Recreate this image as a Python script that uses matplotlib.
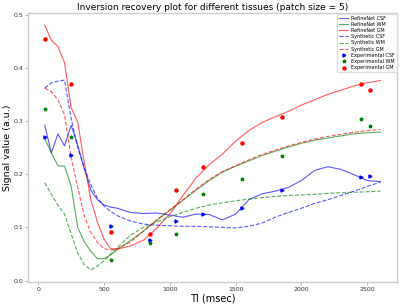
import matplotlib
matplotlib.use('Agg')
import matplotlib.pyplot as plt

# Inversion times (msec) for the curves
ti = [50, 100, 150, 200, 250, 300, 350, 400, 450, 500, 550, 600,
      700, 800, 900, 1000, 1100, 1200, 1300, 1400, 1500, 1600, 1700,
      1800, 1900, 2000, 2100, 2200, 2300, 2400, 2500, 2600]

refine_csf = [0.292, 0.240, 0.276, 0.253, 0.292, 0.255, 0.210, 0.170, 0.152,
              0.142, 0.138, 0.136, 0.128, 0.126, 0.127, 0.123, 0.119, 0.125,
              0.124, 0.114, 0.125, 0.152, 0.163, 0.168, 0.175, 0.188, 0.207,
              0.214, 0.209, 0.199, 0.188, 0.186]
refine_wm = [0.267, 0.240, 0.216, 0.215, 0.178, 0.100, 0.073, 0.055, 0.041,
             0.041, 0.048, 0.058, 0.075, 0.093, 0.113, 0.132, 0.151, 0.170,
             0.188, 0.204, 0.215, 0.225, 0.235, 0.243, 0.251, 0.258, 0.264,
             0.268, 0.272, 0.276, 0.278, 0.279]
refine_gm = [0.480, 0.452, 0.440, 0.410, 0.325, 0.298, 0.222, 0.152, 0.110,
             0.078, 0.060, 0.059, 0.065, 0.076, 0.098, 0.125, 0.160, 0.193,
             0.218, 0.238, 0.262, 0.282, 0.297, 0.308, 0.318, 0.330, 0.340,
             0.350, 0.358, 0.366, 0.372, 0.376]
synth_csf = [0.362, 0.372, 0.375, 0.377, 0.305, 0.250, 0.212, 0.180, 0.155,
             0.140, 0.130, 0.122, 0.112, 0.106, 0.104, 0.103, 0.102, 0.102,
             0.101, 0.100, 0.099, 0.102, 0.108, 0.119, 0.128, 0.136, 0.145,
             0.152, 0.160, 0.168, 0.177, 0.185]
synth_wm = [0.184, 0.162, 0.142, 0.125, 0.088, 0.052, 0.030, 0.020, 0.027,
            0.037, 0.050, 0.062, 0.085, 0.100, 0.110, 0.120, 0.128, 0.136,
            0.142, 0.146, 0.150, 0.153, 0.156, 0.158, 0.160, 0.161, 0.162,
            0.164, 0.165, 0.166, 0.167, 0.168]
synth_gm = [0.362, 0.355, 0.340, 0.312, 0.232, 0.175, 0.122, 0.090, 0.072,
            0.060, 0.057, 0.060, 0.072, 0.093, 0.114, 0.133, 0.152, 0.172,
            0.190, 0.205, 0.216, 0.227, 0.237, 0.245, 0.253, 0.260, 0.266,
            0.271, 0.275, 0.279, 0.282, 0.284]

# Experimental measurements
ti_exp = [50, 250, 550, 850, 1050, 1250, 1550, 1850, 2450, 2520]
exp_csf = [0.269, 0.236, 0.102, 0.077, 0.111, 0.126, 0.136, 0.171, 0.194, 0.196]
exp_wm = [0.322, 0.270, 0.038, 0.070, 0.087, 0.162, 0.191, 0.235, 0.303, 0.291]
exp_gm = [0.454, 0.369, 0.091, 0.088, 0.170, 0.214, 0.258, 0.308, 0.369, 0.358]

fig, ax = plt.subplots(figsize=(4.0, 3.04), dpi=100)

lw = 0.8
ax.plot(ti, refine_csf, color='b', lw=lw, alpha=0.65, label='RefineNet CSF')
ax.plot(ti, refine_wm, color='g', lw=lw, alpha=0.65, label='RefineNet WM')
ax.plot(ti, refine_gm, color='r', lw=lw, alpha=0.65, label='RefineNet GM')
ax.plot(ti, synth_csf, color='b', lw=lw, ls='--', alpha=0.65, label='Synthetic CSF')
ax.plot(ti, synth_wm, color='g', lw=lw, ls='--', alpha=0.65, label='Synthetic WM')
ax.plot(ti, synth_gm, color='r', lw=lw, ls='--', alpha=0.65, label='Synthetic GM')
ax.plot(ti_exp, exp_csf, '>', color='b', ms=2.2, ls='none', label='Experimental CSF')
ax.plot(ti_exp, exp_wm, '*', color='g', ms=2.5, ls='none', label='Experimental WM')
ax.plot(ti_exp, exp_gm, 'o', color='r', ms=2.2, ls='none', label='Experimental GM')

ax.set_title('Inversion recovery plot for different tissues (patch size = 5)',
             fontsize=6.5, pad=2)
ax.set_xlabel('TI (msec)', fontsize=7, labelpad=1)
ax.set_ylabel('Signal value (a.u.)', fontsize=6.8, labelpad=1)
ax.set_yticks([0.0, 0.1, 0.2, 0.3, 0.4, 0.5])
ax.tick_params(labelsize=4.5, length=2, width=0.5, color='#999999',
               labelcolor='#333333', pad=1.5)
for sp in ax.spines.values():
    sp.set_color('#cccccc')
    sp.set_linewidth(1.0)

ax.legend(loc='upper right', fontsize=3.5, frameon=True, framealpha=1.0,
          edgecolor='#dddddd', borderpad=0.4, labelspacing=0.25,
          handlelength=1.8, handletextpad=0.6, borderaxespad=0.1,
          fancybox=False)

fig.subplots_adjust(left=0.07, right=0.993, bottom=0.072, top=0.957)
fig.savefig('out.png', dpi=100)
